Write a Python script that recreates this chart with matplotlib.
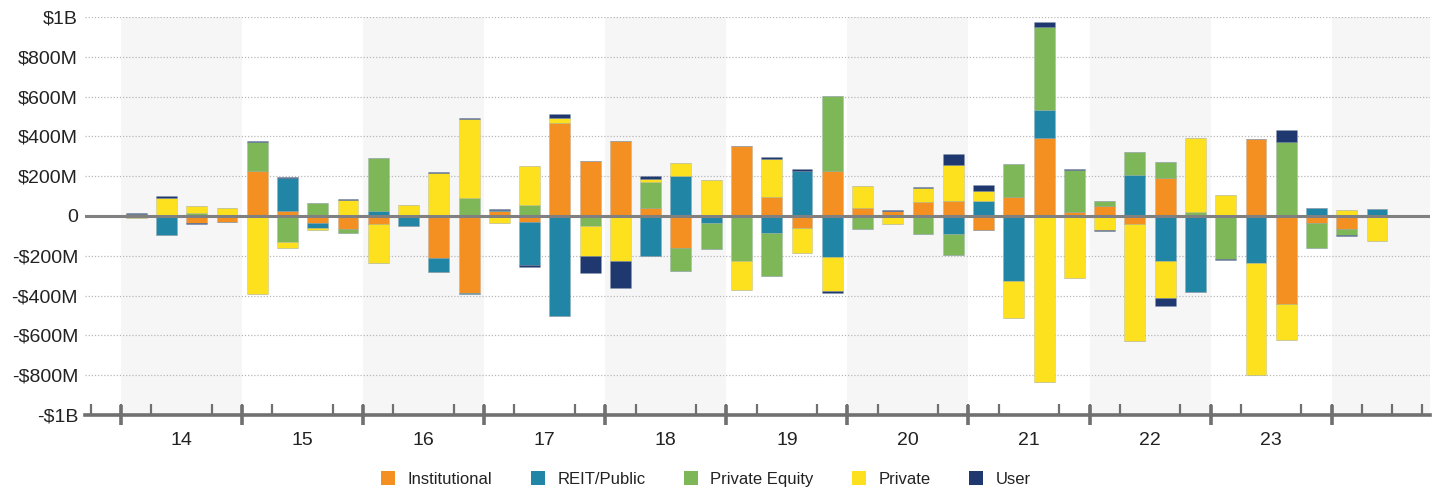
import numpy as np
import matplotlib
matplotlib.use("Agg")
import matplotlib.pyplot as plt
from matplotlib.patches import Patch
from matplotlib.ticker import FixedLocator, FuncFormatter

plt.rcParams['font.family'] = ['Liberation Sans', 'DejaVu Sans']

# Quarterly values in $M, 2014Q1 .. 2024Q2
institutional = [0, 0, -37, -28, 224, 25, -33, -65, -40, 5, -210, -387,
                 25, -28, 469, 277, 377, 40, -162, 0, 352, 95, -60, 225,
                 42, 25, 70, 75, -72, 95, 394, 22, 48, -40, 189, 0,
                 0, 386, -442, -33, -65, 0]
reit_public = [0, -95, 0, 0, 0, 165, -28, 0, 25, -48, -72, -3,
               7, -220, -501, 0, 0, -202, 202, -33, 0, -85, 224, -204,
               0, 0, 0, -90, 75, -326, 137, 0, 0, 207, -227, -382,
               0, -235, 0, 42, 0, 33]
private_equity = [12, 0, 13, 0, 147, -130, 65, -18, 264, 0, 0, 90,
                  0, 55, 0, -50, 0, 132, -112, -132, -227, -215, 0, 379,
                  -65, 0, -88, -107, 0, 165, 421, 209, 28, 114, 82, 22,
                  -217, 0, 372, -127, -30, 0]
private = [-10, 90, 35, 38, -390, -32, -8, 80, -195, 48, 217, 399,
           -37, 195, 22, -152, -227, 12, 63, 180, -144, 192, -127, -175,
           107, -40, 70, 179, 53, -185, -833, -314, -70, -588, -185, 372,
           105, -566, -179, 0, 30, -125]
user = [2, 8, -3, 3, 8, 8, -3, 3, 3, 0, 3, 4,
        5, -10, 23, -82, -137, 15, 0, 0, -3, 8, 10, -7,
        4, 3, 5, 58, 28, 0, 23, 5, -4, 3, -38, 0,
        -3, 0, 58, 0, -5, 0]

series_names = ["Institutional", "REIT/Public", "Private Equity", "Private", "User"]
series_colors = ["#F39021", "#2186A6", "#7EB758", "#FDE11F", "#1F386F"]
year_labels = ["14", "15", "16", "17", "18", "19", "20", "21", "22", "23"]

series = [institutional, reit_public, private_equity, private, user]
n = len(institutional)
x = np.arange(n) + 0.5

fig = plt.figure(figsize=(14.37, 4.92), dpi=100)
ax = fig.add_axes([85/1437, 1 - 415/492, (1430-85)/1437, (415-17)/492])

# shading of alternate years
for k in range(0, 11, 2):
    x0 = k * 4
    x1 = x0 + 4 if k < 10 else 44
    ax.axvspan(x0, x1, color="#F6F6F6", zorder=0, lw=0)

pos_bottom = np.zeros(n)
neg_bottom = np.zeros(n)
for vals, name, col in zip(series, series_names, series_colors):
    v = np.array(vals, dtype=float)
    pos = np.where(v > 0, v, 0)
    neg = np.where(v < 0, v, 0)
    ax.bar(x, pos, 0.69, bottom=pos_bottom, color=col, zorder=3,
           edgecolor=(0.55, 0.6, 0.65, 0.35), linewidth=0.5)
    ax.bar(x, neg, 0.69, bottom=neg_bottom, color=col, zorder=3,
           edgecolor=(0.55, 0.6, 0.65, 0.35), linewidth=0.5)
    pos_bottom += pos
    neg_bottom += neg

ax.set_xlim(-1.19, 43.25)
ax.set_ylim(-1000, 1000)

# gridlines
for yv in [-800, -600, -400, -200, 200, 400, 600, 800, 1000]:
    ax.axhline(yv, color="#B8B8B8", lw=0.9, ls=(0, (1, 1.5)), zorder=1)
ax.axhline(0, color="#808080", lw=2.2, zorder=4)

def fmt(v, pos):
    if v == 0:
        return "0"
    s = "-" if v < 0 else ""
    a = abs(v)
    if a >= 1000:
        return f"{s}${a/1000:.0f}B"
    return f"{s}${a:.0f}M"

ax.yaxis.set_major_locator(FixedLocator(np.arange(-1000, 1001, 200)))
ax.yaxis.set_major_formatter(FuncFormatter(fmt))
ax.tick_params(axis='y', length=0, pad=5, labelsize=14, labelcolor="#222222")

for s in ["left", "right", "top"]:
    ax.spines[s].set_visible(False)
ax.spines["bottom"].set_color("#707070")
ax.spines["bottom"].set_linewidth(2.6)
ax.spines["bottom"].set_zorder(5)

# year labels at centres, minor ticks every quarter
ax.set_xticks([4 * k + 2 for k in range(len(year_labels))])
ax.set_xticklabels(year_labels)
ax.tick_params(axis='x', which='major', length=0, pad=12, labelsize=14, labelcolor="#222222")
ax.xaxis.set_minor_locator(FixedLocator(np.arange(-1, 44)))
ax.tick_params(axis='x', which='minor', direction='in', length=8, width=1.6, color="#707070")

sec = ax.secondary_xaxis('bottom')
sec.set_xticks(np.arange(0, 41, 4))
sec.set_xticklabels([])
sec.tick_params(axis='x', direction='inout', length=15, width=2.6, color="#707070")
sec.spines["bottom"].set_visible(False)

handles = [Patch(facecolor=c, edgecolor='none') for c in series_colors]
fig.legend(handles, series_names, loc='center', bbox_to_anchor=(706/1437, 1 - 479/492),
           ncol=5, frameon=False, fontsize=12, handlelength=0.85, handleheight=0.85,
           handletextpad=0.75, columnspacing=2.3, labelcolor="#222222",
           borderpad=0.1)

fig.savefig("out.png", dpi=100)
